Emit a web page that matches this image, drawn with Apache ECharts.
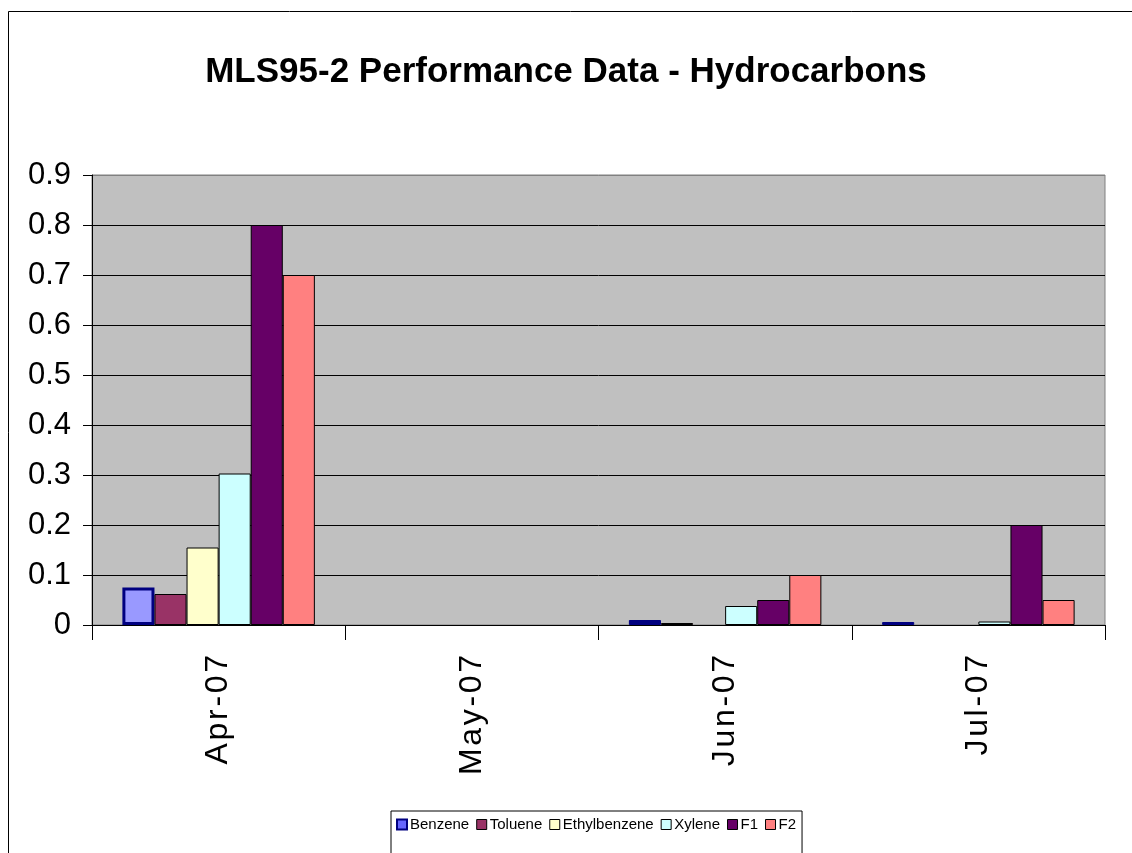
<!DOCTYPE html>
<html>
<head>
<meta charset="utf-8">
<script src="https://cdn.jsdelivr.net/npm/echarts@6/dist/echarts.min.js"></script>
<style>
html,body{margin:0;padding:0;background:#fff;}
#chart{width:1132px;height:853px;}
</style>
</head>
<body>
<div id="chart"></div>
<script>
const categories = ['Apr-07', 'May-07', 'Jun-07', 'Jul-07'];
const yTicks = [0, 0.1, 0.2, 0.3, 0.4, 0.5, 0.6, 0.7, 0.8, 0.9];
const benzene = [0.075, null, 0.010, 0.006];
const toluene = [0.062, null, 0.004, null];
const ethylbenzene = [0.155, null, null, null];
const xylene = [0.303, null, 0.038, 0.007];
const f1 = [0.8, null, 0.05, 0.2];
const f2 = [0.7, null, 0.1, 0.05];
const seriesNames = ['Benzene', 'Toluene', 'Ethylbenzene', 'Xylene', 'F1', 'F2'];
const seriesColors = ['#000080', '#993366', '#FFFFCC', '#CCFFFF', '#660066', '#FF8080'];

const FONT = '"Liberation Sans", Arial, sans-serif';
const seriesData = [benzene, toluene, ethylbenzene, xylene, f1, f2];

const series = seriesNames.map((name, i) => {
  let data = seriesData[i].map((v, j) => {
    if (i === 0 && j === 0 && v !== null) {
      return { value: v, itemStyle: { color: '#9999FF', borderColor: '#000080', borderWidth: 3 } };
    }
    return v;
  });
  return {
    name: name,
    type: 'bar',
    data: data,
    barGap: '0%',
    barCategoryGap: '24%',
    itemStyle: { color: seriesColors[i], borderColor: i === 0 ? '#000080' : '#000000', borderWidth: 1 },
    emphasis: { disabled: true }
  };
});

const chart = echarts.init(document.getElementById('chart'), null, { renderer: 'canvas' });
chart.setOption({
  animation: false,
  backgroundColor: '#ffffff',
  textStyle: { fontFamily: FONT },
  title: {
    text: 'MLS95-2 Performance Data - Hydrocarbons',
    left: 'center',
    top: 50,
    textStyle: { fontFamily: FONT, fontSize: 35, fontWeight: 'bold', color: '#000' }
  },
  graphic: [{
    type: 'rect',
    shape: { x: 8.5, y: 11.5, width: 1200, height: 1000 },
    style: { fill: null, stroke: '#000', lineWidth: 1 },
    z: 100
  }],
  legend: {
    left: 391,
    top: 811,
    padding: [6, 6, 30, 5],
    borderColor: '#000',
    borderWidth: 1,
    itemWidth: 10,
    itemHeight: 10,
    itemGap: 7,
    icon: 'rect',
    textStyle: { fontFamily: FONT, fontSize: 15, color: '#000', padding: [0, 0, 0, -2] },
    data: seriesNames.map((n, i) => ({
      name: n,
      itemStyle: i === 0
        ? { color: '#6666FF', borderColor: '#000080', borderWidth: 2 }
        : { color: seriesColors[i], borderColor: '#000', borderWidth: 1 }
    }))
  },
  grid: {
    left: 92,
    right: 27,
    top: 175,
    bottom: 228,
    show: true,
    backgroundColor: '#C0C0C0',
    borderColor: '#808080',
    borderWidth: 1,
    containLabel: false
  },
  xAxis: {
    type: 'category',
    data: categories,
    axisLine: { show: true, lineStyle: { color: '#000', width: 1 } },
    axisTick: { show: true, length: 15, alignWithLabel: false, lineStyle: { color: '#000' } },
    axisLabel: {
      rotate: 90,
      margin: 30,
      fontFamily: FONT,
      fontSize: 32,
      color: '#000',
      formatter: v => v.split('').join('\u200A')
    },
    splitLine: { show: false }
  },
  yAxis: {
    type: 'value',
    min: 0,
    max: 0.9,
    interval: 0.1,
    axisLine: { show: true, lineStyle: { color: '#000', width: 1 } },
    axisTick: { show: true, length: 9, lineStyle: { color: '#000' } },
    axisLabel: {
      fontFamily: FONT,
      fontSize: 31,
      color: '#000',
      margin: 21,
      formatter: v => {
        const t = yTicks.find(x => Math.abs(x - v) < 1e-9);
        return String(t !== undefined ? t : v);
      }
    },
    splitLine: {
      show: true,
      lineStyle: { color: ['#000', '#000', '#000', '#000', '#000', '#000', '#000', '#000', '#000', '#808080'], width: 1 }
    }
  },
  series: series
});
</script>
</body>
</html>
